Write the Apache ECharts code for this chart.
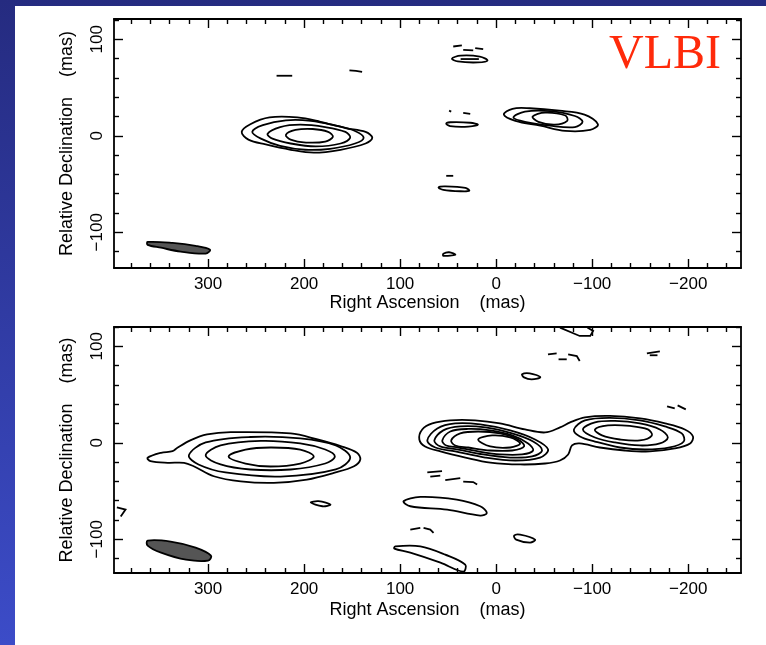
<!DOCTYPE html>
<html>
<head>
<meta charset="utf-8">
<script src="https://cdn.jsdelivr.net/npm/echarts@6/dist/echarts.min.js"></script>
<style>
  html, body { margin: 0; padding: 0; }
  #main { width: 766px; height: 645px; }
</style>
</head>
<body>
<div id="main"></div>
<script>
// axis ranges and ticks (mas)
var xRange = [-255, 398];
var yRangeTop = [-137, 121];
var yRangeBot = [-135, 120];
var xMajor = [300, 200, 100, 0, -100, -200];
var xMinor = [380, 360, 340, 320, 280, 260, 240, 220, 180, 160, 140, 120, 80, 60, 40, 20,
              -20, -40, -60, -80, -120, -140, -160, -180, -220, -240];
var yMajor = [100, 0, -100];
var yMinor = [120, 80, 60, 40, 20, -20, -40, -60, -80, -120];

// ---- top panel (VLBI) contours, [RA, Dec] in mas ----
var topCore1 = [[265,4],[256,12],[236,19],[207,19],[183,14.5],[157,8],[136,4],[129,-2],[136,-8],[162,-14.5],[190,-17.5],[214,-14.5],[240,-9],[258,-4]];
var topCore2 = [[254,4],[243,11],[219,16],[193,15.5],[167,10.5],[147,5],[138,-2],[147,-8],[173,-13.5],[199,-14.5],[225,-10.5],[245,-3]];
var topCore3 = [[238,2],[225,9],[204,11.5],[178,9],[157,4],[152,-2],[162,-8],[188,-11],[214,-8],[233,-3]];
var topCore4 = [[219,1],[209,6],[191,7],[175,4],[170,-1],[178,-6],[198,-7],[214,-4]];
var topJet1 = [[-8,22],[-17,28],[-35,28.5],[-66,26],[-92,22],[-106,12],[-98,6],[-72,5],[-46,10.5],[-20,15.5]];
var topJet2 = [[-18,19],[-30,25],[-56,25.5],[-82,20.5],[-90,14.5],[-82,9],[-56,10.5],[-30,14.5]];
var topJet3 = [[-38,20],[-51,24],[-72,21],[-74,15.5],[-61,11.5],[-44,14.5]];
var topKnotN = [[46,80],[37,83],[17,82],[9,78],[19,76],[40,77]];
var topKnotC = [[52,12.5],[48,14],[27,13.5],[19,11.5],[29,9.5],[48,10]];
var topKnotS = [[60,-53.5],[53,-52.5],[32,-54],[28,-57],[37,-57.5],[55,-56]];
var topKnotB = [[55,-122.3],[49,-120.7],[42.6,-123.3],[55,-124.4]];
var topDashes = [
  [[44.7,92.5],[35.7,93.6]], [[34.3,89.1],[23.9,88.4]], [[21.8,90.9],[13.5,89.8]],
  [[37,79.5],[18,79.5]],
  [[49,26],[46.8,25]], [[34.3,23.8],[27,22.8]],
  [[52,-41.5],[44.7,-41.5]],
  [[228.7,62.2],[212.4,62.2]], [[152.8,67.7],[146,67.2],[139.6,66.3]]
];
var topBeam = [[363,-110],[337,-111],[313,-114],[298,-118],[302.5,-122],[328.5,-120],[349,-116],[363,-113]];

// ---- bottom panel contours ----
var botWest1 = [[363,-15.6],[349,-10.4],[337,-8.7],[332,-5.2],[318,2.7],[301,8.6],[276.5,11],[214,9.7],[186,3.4],[162,-3.5],[145,-10.4],[141.5,-17.3],[148,-24.3],[169,-31.2],[197,-38.1],[231.5,-41.5],[266,-40],[294,-34.7],[315,-24.3],[325,-20.8],[342,-20.8],[360,-19.1]];
var botWest2 = [[320,-13],[302.5,0.3],[256,6],[204,4.5],[167,-2.8],[152,-15.3],[167,-27.7],[224.5,-35],[282,-30.8],[310,-22.5]];
var botWest3 = [[302.5,-13],[287,-2.8],[245,1.9],[204,-0.7],[178,-7],[168,-14.2],[178,-21.5],[214,-27.7],[256,-27.7],[287,-22.5]];
var botWest4 = [[278.6,-14.2],[261,-7],[235,-4.9],[204,-7],[190,-14.2],[204,-21.5],[235,-24.6],[261,-21.5]];
var botEnvelope = [[80,3.4],[77,13.8],[66.5,20],[48,23.2],[22,23.2],[-4,20],[-30,13.8],[-51,10.7],[-66.5,15.9],[-77,21.1],[-92.5,26.3],[-118.5,27.8],[-150,25.2],[-176,20],[-196.5,13.8],[-205,6.5],[-202,-0.7],[-186,-5.9],[-160,-9],[-134,-8],[-108,-4.9],[-87,-0.7],[-79,-2.8],[-75,-12.1],[-66.5,-18.4],[-51,-21.5],[-25,-22.5],[6,-20.5],[32,-15.3],[58,-9],[74,-3.8]];
var botCore2 = [[71.7,2.4],[61.3,14.8],[42.6,20],[16.6,19],[-14.6,12.8],[-40.5,3.4],[-54.1,-7],[-45.7,-15.3],[-19.8,-18.4],[11.4,-15.3],[42.6,-9],[63.4,-4.9]];
var botCore3 = [[64.4,2.4],[55.1,12.8],[37.4,16.9],[11.4,15.9],[-16.6,9.7],[-38.5,1.3],[-47.8,-8],[-37.4,-14.2],[-14.6,-15.3],[13.5,-12.1],[39.5,-7],[58.2,-3.8]];
var botCore4 = [[56.1,2.4],[47.8,11.7],[29.1,14.3],[6.2,12.8],[-16.6,7.6],[-33.3,-0.7],[-38.5,-8],[-27,-12.1],[-4.2,-12.1],[18.7,-9],[39.5,-4.9],[52,-2.8]];
var botCore5 = [[46.8,2.4],[37.4,9.7],[18.7,11.7],[-4.2,9.7],[-22.9,3.4],[-29.1,-3.8],[-16.6,-8],[6.2,-8],[29.1,-4.9],[42.6,-2.8]];
var botCore6 = [[18.7,3.4],[4.2,7.6],[-14.6,5.5],[-24.9,-0.7],[-14.6,-4.9],[6.2,-3.8]];
var botJet2 = [[-81,13.8],[-92.5,23.2],[-118.5,25.8],[-149.7,23.2],[-175.7,16.9],[-193.3,9.7],[-195.4,1.3],[-180.9,-4.9],[-154.9,-7],[-128.9,-4.9],[-102.9,1.3],[-87.3,6.5]];
var botJet3 = [[-90.4,13.8],[-102.9,21.1],[-123.7,22.6],[-149.7,20],[-170.5,13.8],[-178.8,5.5],[-170.5,-0.7],[-149.7,-2.8],[-123.7,0.3],[-102.9,5.5]];
var botJet4 = [[-102.9,13.8],[-116.4,18],[-139.3,17.4],[-158,13.8],[-162.2,7.6],[-149.7,2.4],[-128.9,3.4],[-110.2,7.6]];
var botBlobN = [[-27,71],[-35,72],[-46,68],[-37,65.7],[-29,67.8]];
var botBlobE = [[193,-62],[185,-60.6],[172.6,-64.1],[181,-65.8]];
var botLongS = [[96.4,-60.6],[79,-56.1],[41,-58.9],[16.6,-65.8],[9.7,-72.7],[16.6,-75.5],[51,-69.3],[89.4,-65.8]];
var botBlobSE = [[-18.7,-96.3],[-25,-95.3],[-40.5,-100.4],[-35.3,-103.5],[-20.8,-100.4]];
var botDiag = [[105,-107.4],[79,-107.4],[53,-116],[32.2,-126.4],[34.3,-133.6],[58,-124.3],[89.4,-113.9],[106,-109.8]];
var botDashes = [
  [[-66.5,119.4],[-87,110.7],[-98,110.7],[-101,116],[-95,119.4]],
  [[-54,91.7],[-63,92.7]], [[-65,86.5],[-73.5,86.5]], [[-75,91.7],[-84,89.9],[-87,84.7]],
  [[-157,92.7],[-170.5,94.8]], [[-160,90.7],[-168,90.7]],
  [[-178,37.7],[-186,35.6]], [[-189,38.7],[-197.5,34.6]],
  [[71.7,-30.8],[56.4,-29.3]], [[68.6,-35],[58.2,-34]], [[53,-38.7],[37.4,-36.6]], [[34.3,-40.2],[23.9,-40.7],[19.8,-43.3]],
  [[395,-67],[386,-69.3],[391,-76.5]],
  [[89.4,-90],[79,-88.3]], [[75.6,-88.3],[68.6,-90],[65.2,-93.5]]
];
var botBeam = [[363,-101.5],[339,-102.5],[313,-108.7],[297,-117],[300,-122.2],[323,-121.2],[349,-113.9],[363,-106.6]];

var topClosed = [topCore1, topCore2, topCore3, topCore4, topJet1, topJet2, topJet3, topKnotN, topKnotC, topKnotS, topKnotB];
var botClosed = [botWest1, botWest2, botWest3, botWest4, botEnvelope, botCore2, botCore3, botCore4, botCore5, botCore6,
                 botJet2, botJet3, botJet4, botBlobN, botBlobE, botLongS, botBlobSE, botDiag];

var xTitle = 'Right Ascension    (mas)';
var yTitle = 'Relative Declination    (mas)';
var font = 'Liberation Sans';

function minusFmt(v) { return v < 0 ? '\u2212' + (-v) : String(v); }

function contour(pts, g, closed, fill) {
  return {
    type: 'custom',
    coordinateSystem: 'cartesian2d',
    xAxisIndex: g * 4,
    yAxisIndex: g * 4,
    silent: true,
    clip: true,
    data: pts,
    renderItem: function (params, api) {
      if (params.dataIndex !== 0) return null;
      var points = pts.map(function (p) { return api.coord(p); });
      return {
        type: closed ? 'polygon' : 'polyline',
        shape: { points: points, smooth: closed ? 0.35 : 0 },
        style: { fill: fill || null, stroke: '#000', lineWidth: 1.8 }
      };
    }
  };
}

function xAxisFor(g, pos, ticks, len, main) {
  var labelled = main && pos === 'bottom';
  return {
    gridIndex: g, type: 'value', position: pos, min: xRange[0], max: xRange[1], inverse: true,
    axisLine: { show: main, onZero: false, lineStyle: { color: '#000', width: 1.8 } },
    axisTick: { show: true, inside: true, length: len, customValues: ticks, lineStyle: { color: '#000', width: 1.4 } },
    axisLabel: { show: labelled, customValues: xMajor, formatter: minusFmt, color: '#000', fontSize: 17, fontFamily: font, margin: 8 },
    splitLine: { show: false },
    name: labelled ? xTitle : '',
    nameLocation: 'middle', nameGap: g === 0 ? 24 : 28,
    nameTextStyle: { color: '#000', fontSize: 18, fontFamily: font }
  };
}

function yAxisFor(g, pos, ticks, len, main) {
  var labelled = main && pos === 'left';
  var yr = g === 0 ? yRangeTop : yRangeBot;
  return {
    gridIndex: g, type: 'value', position: pos, min: yr[0], max: yr[1],
    axisLine: { show: main, onZero: false, lineStyle: { color: '#000', width: 1.8 } },
    axisTick: { show: true, inside: true, length: len, customValues: ticks, lineStyle: { color: '#000', width: 1.4 } },
    axisLabel: { show: labelled, customValues: yMajor, formatter: minusFmt, rotate: 90, color: '#000', fontSize: 17, fontFamily: font, margin: 8 },
    splitLine: { show: false },
    name: labelled ? yTitle : '',
    nameLocation: 'middle', nameRotate: 90, nameGap: 38,
    nameTextStyle: { color: '#000', fontSize: 18, fontFamily: font }
  };
}

var xAxes = [], yAxes = [];
[0, 1].forEach(function (g) {
  xAxes.push(xAxisFor(g, 'bottom', xMajor, 9, true));
  xAxes.push(xAxisFor(g, 'bottom', xMinor, 5, false));
  xAxes.push(xAxisFor(g, 'top', xMajor, 9, true));
  xAxes.push(xAxisFor(g, 'top', xMinor, 5, false));
  yAxes.push(yAxisFor(g, 'left', yMajor, 9, true));
  yAxes.push(yAxisFor(g, 'left', yMinor, 5, false));
  yAxes.push(yAxisFor(g, 'right', yMajor, 9, true));
  yAxes.push(yAxisFor(g, 'right', yMinor, 5, false));
});

var series = [];
topClosed.forEach(function (c) { series.push(contour(c, 0, true)); });
topDashes.forEach(function (c) { series.push(contour(c, 0, false)); });
series.push(contour(topBeam, 0, true, '#555555'));
botClosed.forEach(function (c) { series.push(contour(c, 1, true)); });
botDashes.forEach(function (c) { series.push(contour(c, 1, false)); });
series.push(contour(botBeam, 1, true, '#555555'));

var chart = echarts.init(document.getElementById('main'));
chart.setOption({
  animation: false,
  backgroundColor: '#ffffff',
  graphic: [
    { type: 'rect', z: -20, shape: { x: 0, y: 0, width: 766, height: 645 },
      style: { fill: new echarts.graphic.LinearGradient(0, 0, 0, 1, [
        { offset: 0, color: '#252b80' }, { offset: 1, color: '#3c4cc8' }]) } },
    { type: 'rect', z: -19, shape: { x: 15, y: 6, width: 751, height: 639 }, style: { fill: '#ffffff' } },
    { type: 'text', x: 609, y: 31, z: 10,
      style: { text: 'VLBI', font: '48px "Liberation Serif"', fill: '#ff2a0a' } }
  ],
  grid: [
    { left: 114, top: 19, width: 627, height: 249 },
    { left: 114, top: 327, width: 627, height: 246 }
  ],
  xAxis: xAxes,
  yAxis: yAxes,
  series: series
});
</script>
</body>
</html>
